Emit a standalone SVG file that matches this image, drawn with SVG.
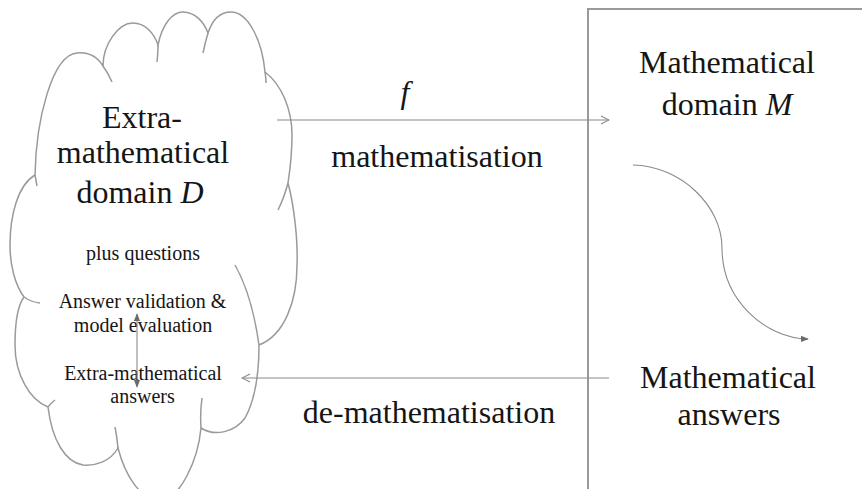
<svg xmlns="http://www.w3.org/2000/svg" width="862" height="489" viewBox="0 0 862 489">
<defs>
<style>
.cloud{fill:none;stroke:#9a9a9a;stroke-width:1.5}
.box{fill:none;stroke:#9a9a9a;stroke-width:2}
.ln{fill:none;stroke:#8a8a8a;stroke-width:1.1}
</style>
<marker id="open" viewBox="0 0 10 10" refX="9" refY="5" markerWidth="10" markerHeight="10" markerUnits="userSpaceOnUse" orient="auto">
<path d="M1,1 L9,5 L1,9" fill="none" stroke="#8a8a8a" stroke-width="1.1"/>
</marker>
<marker id="solid" viewBox="0 0 10 10" refX="9" refY="5" markerWidth="8" markerHeight="8" markerUnits="userSpaceOnUse" orient="auto">
<path d="M0,1 L10,5 L0,9 Z" fill="#6a6a6a"/>
</marker>
</defs>
<rect width="862" height="489" fill="#ffffff"/>

<g id="node-D">
<path class="cloud" d="M35,175 C36,120 52,55 77,53 C89,52 98,58 103,66 C103,45 118,23 133,23 C145,23 154,33 158,45 C162,25 172,12 183,12 C195,12 204,22 208,33 C213,18 222,12 231,12 C248,12 262,40 265,72 C282,85 292,110 292,135 C292,155 290,170 288,183 C294,205 298,240 297,265 C297,300 285,335 259,345 C259,375 255,400 245,418 C235,432 215,437 201,428 C198,460 180,500 160,500 C140,500 125,475 118,448 C110,462 95,466 83,465 C65,462 52,440 48,407 C30,400 15,375 15,345 C15,320 18,305 24,297 C15,285 10,265 10,245 C10,215 18,185 35,175 Z"/>
<path class="cloud" d="M35,175 L37,186 M103,66 Q108,73 112,82 M158,45 Q158,54 157,62 M208,33 Q205,43 203,53 M265,72 Q266,78 266,83 M288,183 Q284,198 278,210 M259,345 Q252,295 235,265 M201,428 Q200,412 202,398 M118,448 Q117,437 115,427 M48,407 Q51,403 55,400 M24,297 Q31,302 40,303"/>
<g font-family="Liberation Serif, serif" fill="#151515" text-anchor="middle">
<text x="142" y="128" font-size="32">Extra-</text>
<text x="143" y="163" font-size="32">mathematical</text>
<text x="140" y="203" font-size="32">domain <tspan font-style="italic">D</tspan></text>
<text x="143" y="260" font-size="20">plus questions</text>
<text x="142.5" y="308" font-size="20">Answer validation &amp;</text>
<text x="143" y="332" font-size="20">model evaluation</text>
<text x="143" y="380" font-size="20">Extra-mathematical</text>
<text x="142.5" y="403" font-size="20">answers</text>
</g>
</g>

<g id="node-M">
<path class="box" d="M870,9 L588,9 L588,495"/>
<g font-family="Liberation Serif, serif" fill="#151515" text-anchor="middle" font-size="32">
<text x="727" y="73">Mathematical</text>
<text x="727" y="115">domain <tspan font-style="italic">M</tspan></text>
<text x="728" y="388">Mathematical</text>
<text x="729" y="425">answers</text>
</g>
</g>

<g id="connectors">
<line class="ln" x1="277" y1="120" x2="609" y2="120" marker-end="url(#open)"/>
<line class="ln" x1="609" y1="378" x2="242" y2="378" marker-end="url(#open)"/>
<path class="ln" d="M633,165 C680,166 722,205 722,248 C722,300 765,338 808,339" marker-end="url(#solid)"/>
<line class="ln" x1="137" y1="350" x2="137" y2="314" marker-end="url(#solid)"/>
<line class="ln" x1="137" y1="350" x2="137" y2="387" marker-end="url(#solid)"/>
<g font-family="Liberation Serif, serif" fill="#151515" text-anchor="middle" font-size="32">
<text x="405" y="103" font-style="italic">f</text>
<text x="437" y="167">mathematisation</text>
<text x="429" y="423">de-mathematisation</text>
</g>
</g>
</svg>
